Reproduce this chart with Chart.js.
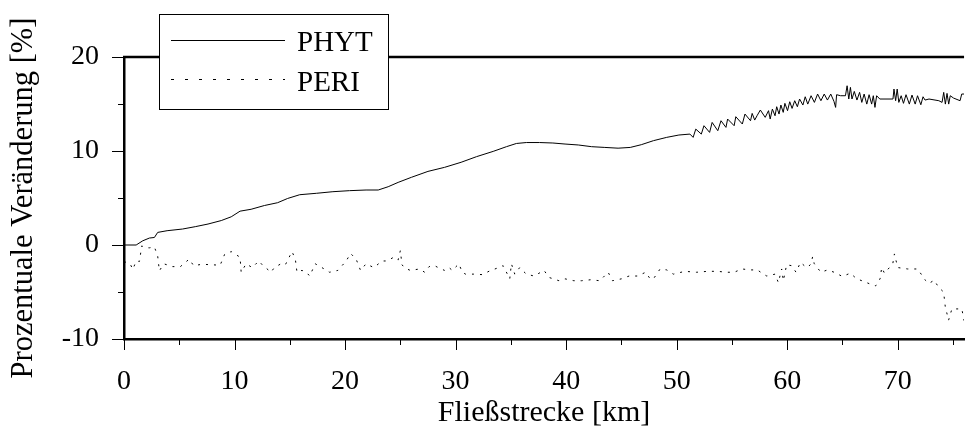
<!DOCTYPE html>
<html>
<head>
<meta charset="utf-8">
<script src="https://cdn.jsdelivr.net/npm/chart.js@4.4.0/dist/chart.umd.min.js"></script>
<style>
  html, body { margin: 0; padding: 0; background: #fff; }
</style>
</head>
<body>
<canvas id="chart" width="979" height="431"></canvas>
<script>
const SERIF = '"Liberation Serif", "Times New Roman", serif';

const xLabelTicks = [0, 10, 20, 30, 40, 50, 60, 70];
const yLabelTicks = [-10, 0, 10, 20];

const phytKm = [
  0, 1.1, 1.7, 2.3, 2.75, 3.05, 3.9, 5.3, 6.45, 7.6, 8.8, 9.7, 10.5, 11.5, 12.7,
  13.9, 14.8, 15.9, 17.4, 18.9, 20.4, 21.9, 23.0, 23.9, 24.8, 26.0, 27.5, 29.0,
  30.5, 31.9, 33.4, 34.6, 35.5, 36.4, 37.6, 38.8, 39.9, 41.1, 42.3, 43.5, 44.7,
  45.8, 46.8, 47.9, 49.1, 50.2, 51.2,
  51.49, 51.73, 52.23, 52.47, 52.98, 53.21, 53.72, 54.01, 54.46, 54.61, 55.2,
  55.35, 55.94, 56.18, 56.68, 56.83, 57.06, 57.27, 57.57, 58.01, 58.31, 58.46,
  58.66, 58.9, 59.05, 59.26, 59.43, 59.64, 59.79, 60.03, 60.23, 60.44, 60.68,
  60.92, 61.12, 61.42, 61.63, 61.86, 62.16, 62.46, 62.75, 63.05, 63.35, 63.64,
  63.94, 64.23, 64.38, 64.47, 64.83, 65.27, 65.42, 65.57, 65.72, 65.86, 66.07,
  66.31, 66.55, 66.75, 66.96, 67.2, 67.41, 67.64, 67.79, 67.94, 68.09, 68.38,
  69.57, 69.66, 69.81, 69.95, 70.1, 70.31, 70.52, 70.75, 71.05, 71.29, 71.58,
  71.79, 72.09, 72.29, 72.47, 72.83, 73.72, 74.01, 74.16, 74.31, 74.46, 74.61,
  74.75, 75.05, 75.64, 75.79, 76.0
];
const phytPct = [
  0, 0, 0.45, 0.74, 0.8, 1.34, 1.52, 1.7, 1.95, 2.23, 2.6, 3.0, 3.6, 3.8, 4.2,
  4.5, 4.95, 5.35, 5.5, 5.67, 5.78, 5.85, 5.85, 6.2, 6.66, 7.2, 7.83, 8.26,
  8.8, 9.4, 9.96, 10.46, 10.8, 10.9, 10.9, 10.85, 10.74, 10.64, 10.46, 10.38, 10.3,
  10.38, 10.67, 11.1, 11.45, 11.7, 11.8,
  11.45, 12.33, 11.8, 12.69, 11.98, 13.04, 12.16, 13.22, 12.51, 13.4, 12.69,
  13.65, 12.87, 13.93, 13.22, 14.0, 13.29, 13.75, 14.36, 13.58, 14.29, 13.4,
  14.46, 13.75, 14.71, 13.93, 14.89, 14.11, 15.07, 14.29, 15.24, 14.53, 15.35,
  14.71, 15.53, 14.89, 15.77, 14.99, 15.88, 15.17, 16.06, 15.35, 16.06, 15.42,
  16.06, 15.28, 14.64, 15.99, 15.88, 15.88, 16.94, 15.53, 16.77, 15.53, 16.34,
  15.42, 16.24, 15.17, 16.06, 14.99, 15.99, 14.99, 15.88, 14.64, 15.88, 15.53,
  15.53, 16.59, 15.35, 16.59, 15.17, 15.88, 15.07, 15.99, 14.99, 15.95, 14.99,
  15.88, 14.92, 15.77, 15.42, 15.53, 15.35, 15.17, 16.24, 14.99, 16.13, 14.99,
  15.88, 15.63, 15.35, 16.06, 16.06
];

const periKm = [
  0, 0.3, 0.55, 0.8, 1.1, 1.4, 1.6, 2.0, 2.3, 2.75, 3.05, 3.2, 3.6, 4.4, 5.1,
  5.9, 6.3, 7.05, 7.9, 8.7, 9.1, 9.7, 10.5, 10.6, 11.05, 11.6, 12.2, 12.5, 12.8,
  13.3, 13.6, 14.2, 14.6, 15.2, 15.5, 15.65, 16.1, 16.5, 16.8, 17.3, 17.9, 18.6,
  19.35, 20.1, 20.5, 21.0, 21.4, 21.9, 22.6, 23.35, 23.8, 24.4, 24.8, 25.0, 25.15,
  25.4, 25.9, 26.75, 27.2, 27.6, 28.1, 28.5, 29.0, 29.4, 29.7, 30.3, 30.6, 30.9,
  31.6, 32.4, 33.1, 33.9, 34.3, 34.9, 35.05, 35.35, 35.8, 36.4, 37.1, 38.0, 38.45,
  39.35, 39.9, 40.7, 41.4, 42.2, 43.05, 43.8, 44.2, 45.0, 45.7, 46.45, 47.2, 47.6,
  47.9, 48.5, 49.1, 49.7, 50.75, 51.8, 52.8, 53.7, 54.5, 55.2, 55.9, 56.7, 57.3,
  57.85, 58.15, 58.9, 59.2, 59.5, 59.65, 59.95, 60.4, 60.8, 61.2, 61.55, 61.85,
  62.15, 62.3, 62.45, 63.05, 63.65, 64.25, 65.0, 65.7, 66.3, 66.75, 67.5, 68.0,
  68.4, 68.55, 68.8, 69.55, 69.7, 70.0, 70.9, 71.8, 72.5, 72.8, 73.3, 73.7, 74.15,
  74.3, 74.6, 74.9, 75.8, 76.0
];
const periPct = [
  -1.8, -1.85, -2.0, -2.6, -1.7, -1.75, -0.1, -0.3, -0.3, -0.2, -1.2, -2.75, -2.0, -2.3, -2.3,
  -1.5, -2.2, -2.05, -2.1, -2.15, -1.0, -0.7, -1.3, -2.9, -2.0, -2.4, -1.7, -2.1, -2.4,
  -2.9, -2.4, -2.0, -2.1, -0.7, -1.5, -2.9, -2.7, -2.9, -3.3, -2.0, -2.4, -2.9,
  -2.7, -1.7, -0.9, -1.5, -2.7, -2.0, -2.4, -1.7, -1.7, -1.3, -1.6, -0.6, -2.1,
  -2.45, -2.7, -2.55, -2.9, -2.3, -2.2, -2.45, -2.7, -2.4, -2.7, -2.0, -2.9, -3.1,
  -3.1, -3.15, -2.75, -2.4, -2.2, -3.6, -2.0, -3.1, -2.4, -3.1, -3.3, -2.7, -3.45,
  -3.8, -3.6, -3.8, -3.8, -3.7, -3.8, -2.9, -3.8, -3.6, -3.3, -3.3, -2.9, -3.6,
  -3.6, -2.55, -2.65, -3.1, -2.8, -2.9, -2.8, -2.8, -2.9, -2.9, -2.55, -2.65, -2.65,
  -3.1, -3.3, -3.1, -4.0, -2.55, -3.8, -2.1, -2.2, -2.9, -1.85, -2.2, -2.4,
  -2.0, -1.25, -2.0, -2.9, -2.65, -2.9, -3.35, -3.0, -3.6, -3.8, -4.15, -4.35,
  -3.6, -2.4, -3.0, -2.0, -0.95, -2.4, -2.55, -2.55, -3.75, -4.1, -3.75, -4.5, -5.0,
  -6.55, -8.0, -6.8, -6.8, -8.05
];

function toPoints(xs, ys) {
  return xs.map((x, i) => ({ x, y: ys[i] }));
}

// tick marks (long at labelled values, short in between), top frame line, legend box
const framePlugin = {
  id: "frame",
  afterDraw(chart) {
    const { ctx, chartArea, scales } = chart;
    ctx.save();
    ctx.strokeStyle = "#000";
    ctx.lineWidth = 1;
    ctx.beginPath();
    scales.x.ticks.forEach((t) => {
      const px = Math.round(scales.x.getPixelForValue(t.value)) + 0.5;
      const len = t.value % 10 === 0 ? 11 : 6;
      ctx.moveTo(px, chartArea.bottom);
      ctx.lineTo(px, chartArea.bottom + len);
    });
    scales.y.ticks.forEach((t) => {
      const py = Math.round(scales.y.getPixelForValue(t.value)) + 0.5;
      const len = t.value % 10 === 0 ? 12 : 6;
      ctx.moveTo(chartArea.left, py);
      ctx.lineTo(chartArea.left - len, py);
    });
    ctx.stroke();

    ctx.lineWidth = 2.5;
    ctx.beginPath();
    ctx.moveTo(chartArea.left - 1, chartArea.top);
    ctx.lineTo(chartArea.right, chartArea.top);
    ctx.stroke();

    const box = { x: 159, y: 14, w: 229, h: 95 };
    ctx.fillStyle = "#fff";
    ctx.fillRect(box.x, box.y, box.w, box.h);
    ctx.lineWidth = 1;
    ctx.strokeRect(box.x + 0.5, box.y + 0.5, box.w, box.h);

    ctx.font = "29px " + SERIF;
    ctx.fillStyle = "#000";
    ctx.textBaseline = "alphabetic";
    chart.data.datasets.forEach((ds, i) => {
      const ly = i === 0 ? 40.5 : 79.5;
      ctx.setLineDash(i === 0 ? [] : [3, 11]);
      ctx.beginPath();
      ctx.moveTo(171, ly);
      ctx.lineTo(285, ly);
      ctx.stroke();
      ctx.fillText(ds.label, 297, i === 0 ? 51 : 91);
    });
    ctx.restore();
  },
};

new Chart(document.getElementById("chart"), {
  type: "line",
  data: {
    datasets: [
      {
        label: "PHYT",
        data: toPoints(phytKm, phytPct),
        borderColor: "#000",
        borderWidth: 1,
        pointRadius: 0,
        tension: 0,
      },
      {
        label: "PERI",
        data: toPoints(periKm, periPct),
        borderColor: "#000",
        borderWidth: 1,
        borderDash: [2, 6],
        pointRadius: 0,
        tension: 0,
      },
    ],
  },
  options: {
    responsive: false,
    animation: false,
    layout: { padding: { top: 57, right: 0, bottom: 0, left: 0 } },
    plugins: {
      legend: { display: false },
      tooltip: { enabled: false },
    },
    scales: {
      x: {
        type: "linear",
        min: 0,
        max: 76,
        afterFit: (scale) => { scale.height = 92; },
        grid: { display: false, drawTicks: false },
        border: { display: true, color: "#000", width: 2.5 },
        ticks: {
          stepSize: 5,
          includeBounds: false,
          autoSkip: false,
          maxRotation: 0,
          padding: 26,
          color: "#000",
          font: { family: SERIF, size: 28 },
          callback: (v) => (xLabelTicks.includes(v) ? String(v) : ""),
        },
        title: {
          display: true,
          text: "Fließstrecke [km]",
          color: "#000",
          font: { family: SERIF, size: 30 },
          padding: { top: 0, bottom: 0 },
        },
      },
      y: {
        min: -10,
        max: 20,
        afterFit: (scale) => { scale.width = 124; },
        grid: { display: false, drawTicks: false },
        border: { display: true, color: "#000", width: 2.5 },
        ticks: {
          stepSize: 5,
          autoSkip: false,
          padding: 25,
          color: "#000",
          font: { family: SERIF, size: 28 },
          callback: (v) => (yLabelTicks.includes(v) ? String(v) : ""),
        },
        title: {
          display: true,
          text: "Prozentuale Veränderung [%]",
          color: "#000",
          font: { family: SERIF, size: 30.5 },
          padding: { top: 6, bottom: 0 },
        },
      },
    },
  },
  plugins: [framePlugin],
});
</script>
</body>
</html>
